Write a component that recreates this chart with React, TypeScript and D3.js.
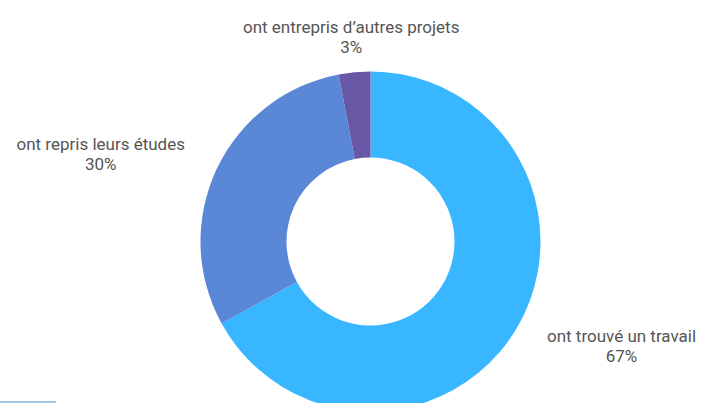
import * as d3 from "d3";
import { useEffect, useRef } from "react";

// données
const categories = ["ont trouvé un travail", "ont repris leurs études", "ont entrepris d’autres projets"];
const values = [67, 30, 3];
const colors = ["#38B6FF", "#5B87D7", "#6757A5"];

const W = 716;
const H = 403;

export default function App() {
  const svgRef = useRef<SVGSVGElement>(null);

  useEffect(() => {
    if (!svgRef.current) return;
    const svg = d3.select(svgRef.current);
    svg.selectAll("*").remove();

    const cx = 370.5;
    const cy = 241.5;
    const outer = 170;
    const inner = 84;

    const pie = d3
      .pie<number>()
      .sort(null)
      .value((d) => d);
    const arcs = pie(values);

    const arc = d3.arc<d3.PieArcDatum<number>>().innerRadius(inner).outerRadius(outer);
    // position des étiquettes, un peu en dehors de l'anneau
    const labelArc = d3
      .arc<d3.PieArcDatum<number>>()
      .innerRadius(outer + 35)
      .outerRadius(outer + 35);

    const g = svg.append("g").attr("transform", `translate(${cx},${cy})`);

    g.selectAll("path")
      .data(arcs)
      .join("path")
      .attr("d", arc)
      .attr("fill", (_, i) => colors[i]);

    const labels = g
      .selectAll("g.label")
      .data(arcs)
      .join("g")
      .attr("class", "label")
      .attr("transform", (d) => `translate(${labelArc.centroid(d)})`);

    labels.each(function (d, i) {
      const mid = (d.startAngle + d.endAngle) / 2;
      const s = Math.sin(mid);
      const t = d3
        .select(this)
        .append("text")
        .attr("text-anchor", "middle")
        .attr("font-family", "Roboto, 'Noto Sans', sans-serif")
        .attr("font-size", 17)
        .attr("fill", "#555");
      const l1 = t.append("tspan").attr("x", 0).attr("y", -10).attr("dy", "0.35em").text(categories[i]);
      const l2 = t.append("tspan").attr("x", 0).attr("y", 10).attr("dy", "0.35em").text(`${values[i]}%`);
      // bloc centré, décalé à gauche ou à droite selon le côté
      const w = (t.node() as SVGTextElement).getBBox().width;
      const shift = Math.abs(s) < 0.3 ? 0 : Math.sign(s) * w / 2;
      l1.attr("x", shift);
      l2.attr("x", shift);
    });

    // petite barre claire en bas à gauche
    svg
      .append("rect")
      .attr("x", 0)
      .attr("y", H - 2)
      .attr("width", 56)
      .attr("height", 2)
      .attr("fill", "#9EC5E8");
  }, []);

  return (
    <svg
      ref={svgRef}
      width={W}
      height={H}
      style={{ position: "absolute", left: 0, top: 0, background: "#fff" }}
    />
  );
}
